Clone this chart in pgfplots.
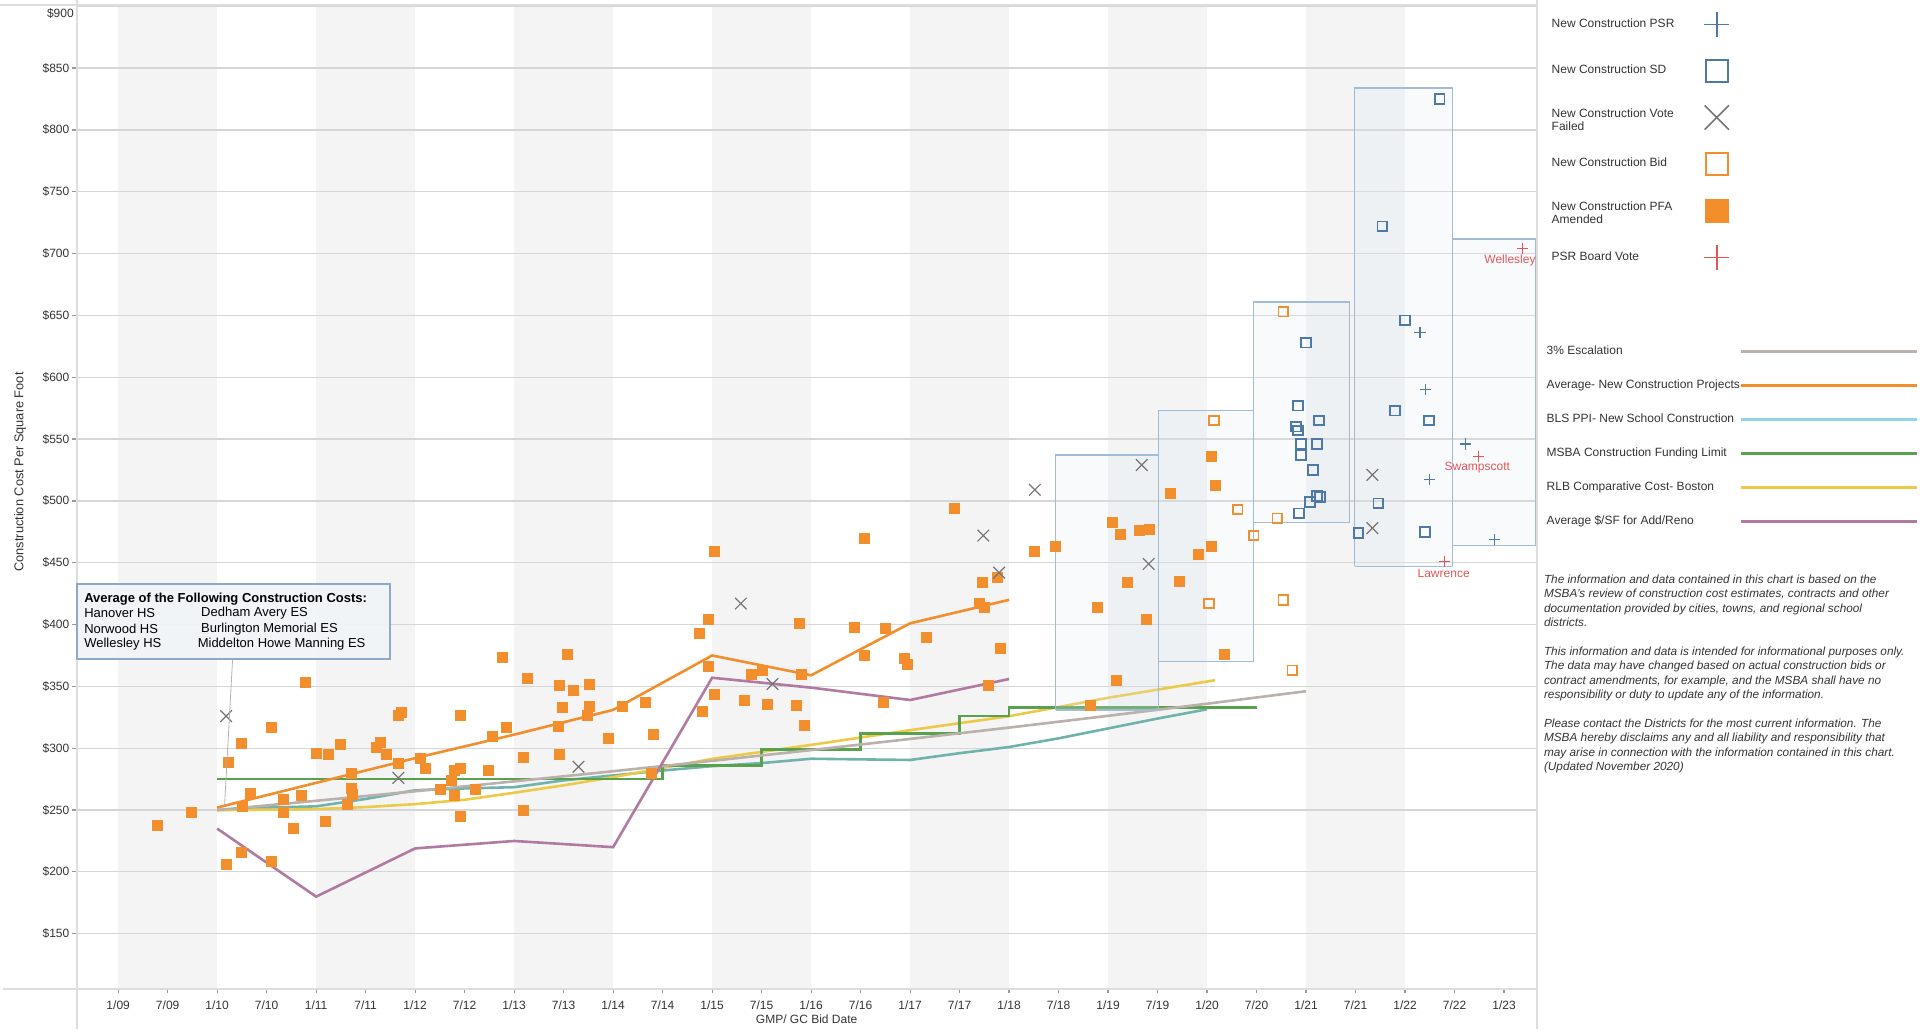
\documentclass[border=0pt]{standalone}
\usepackage{pgfplots}
\pgfplotsset{compat=1.18}
\usepackage{fontspec}
\setmainfont{Liberation Sans}
\definecolor{tborange}{HTML}{F28E2B}
\definecolor{tbblue}{HTML}{4E79A7}
\definecolor{tbred}{HTML}{E15759}
\definecolor{tbx}{HTML}{767676}
\definecolor{escc}{HTML}{BAB0AC}
\definecolor{tealc}{HTML}{70B3AC}
\definecolor{tealleg}{HTML}{8ED5E6}
\definecolor{greenc}{HTML}{59A14F}
\definecolor{yellowc}{HTML}{EDC948}
\definecolor{purplec}{HTML}{B07AA1}
\definecolor{bandc}{HTML}{F4F4F4}
\definecolor{gridc}{HTML}{D6D6D6}
\definecolor{framec}{HTML}{DDDDDD}
\definecolor{boxc}{HTML}{A2BCD8}
\definecolor{boxfill}{HTML}{DDE8F1}
\definecolor{annc}{HTML}{8FA8C6}
\definecolor{annfill}{HTML}{F1F4F7}
\definecolor{txt}{HTML}{333333}
\newcommand{\twoline}[2]{\begin{tabular}{@{}l@{}}#1\\#2\end{tabular}}
\pgfplotsset{legaxis/.style={anchor=north west, scale only axis, width=5pt, height=5pt,
  xmin=0, xmax=1, ymin=0, ymax=1, axis line style={draw=none}, xtick=\empty, ytick=\empty,
  legend plot pos=right, legend cell align=left}}
\begin{document}
\begin{tikzpicture}[x=1pt,y=1pt]
\begin{axis}[
  at={(38.25pt,-2.5pt)}, anchor=north west,
  scale only axis, width=730.1pt, height=492pt,
  set layers, clip=false,
  xmin=2008.579, xmax=2023.33, ymin=105.3, ymax=901,
  axis lines*=left, axis line style={draw=none},
  tick align=outside, major tick length=2.2pt,
  tick style={color=black!40, line width=0.6pt},
  ymajorgrids, major grid style={color=gridc, line width=0.6pt},
  xtick={2009,2009.5,2010,2010.5,2011,2011.5,2012,2012.5,2013,2013.5,2014,2014.5,2015,2015.5,2016,2016.5,2017,2017.5,2018,2018.5,2019,2019.5,2020,2020.5,2021,2021.5,2022,2022.5,2023},
  xticklabels={1/09,7/09,1/10,7/10,1/11,7/11,1/12,7/12,1/13,7/13,1/14,7/14,1/15,7/15,1/16,7/16,1/17,7/17,1/18,7/18,1/19,7/19,1/20,7/20,1/21,7/21,1/22,7/22,1/23},
  ytick={150,200,250,300,350,400,450,500,550,600,650,700,750,800,850},
  yticklabels={\$150,\$200,\$250,\$300,\$350,\$400,\$450,\$500,\$550,\$600,\$650,\$700,\$750,\$800,\$850},
  extra y ticks={900}, extra y tick labels={\$900},
  extra y tick style={major tick length=0pt, yticklabel style={yshift=-3.4pt}, grid style={color=gridc, line width=0.6pt}},
  tick label style={font=\fontsize{6}{7}\selectfont, text=txt},
  yticklabel style={inner sep=1.2pt},
]
\begin{pgfonlayer}{axis background}
\fill[bandc] (axis cs:2009,105.3) rectangle (axis cs:2010,901);
\fill[bandc] (axis cs:2011,105.3) rectangle (axis cs:2012,901);
\fill[bandc] (axis cs:2013,105.3) rectangle (axis cs:2014,901);
\fill[bandc] (axis cs:2015,105.3) rectangle (axis cs:2016,901);
\fill[bandc] (axis cs:2017,105.3) rectangle (axis cs:2018,901);
\fill[bandc] (axis cs:2019,105.3) rectangle (axis cs:2020,901);
\fill[bandc] (axis cs:2021,105.3) rectangle (axis cs:2022,901);
\end{pgfonlayer}

% BLS PPI
\addplot[tealc, line width=1.3pt] coordinates {(2010,250) (2010.5,252) (2011,253) (2011.5,259) (2012,266) (2012.5,267.5) (2013,268.5) (2013.5,274) (2014,278) (2014.5,282) (2015,285.5) (2015.5,288) (2016,291.5) (2016.5,291) (2017,290.5) (2017.5,296) (2018,301) (2018.5,308) (2019,316) (2019.5,324) (2020,331.5)};
% RLB
\addplot[yellowc, line width=1.3pt] coordinates {(2010,250) (2010.5,250.3) (2011,250.8) (2011.5,252.4) (2012,254.8) (2012.5,258.3) (2013,264) (2013.5,270) (2014,276.6) (2014.5,284) (2015,291.4) (2016,302.7) (2017,314.6) (2018,325.9) (2019,340.8) (2020.08,355)};
% MSBA
\addplot[greenc, line width=1.3pt, const plot] coordinates {(2010,275) (2014.5,286) (2015.5,299) (2016.5,312) (2017.5,326) (2018,333) (2020.5,333)};
% 3% escalation
\addplot[escc, line width=1.3pt] coordinates {(2010,250) (2011,257.5) (2012,265.2) (2013,273.2) (2014,281.4) (2015,289.8) (2016,298.5) (2017,307.5) (2018,316.7) (2019,326.2) (2020,336.0) (2021,346.1)};
% Add/Reno
\addplot[purplec, line width=1.3pt] coordinates {(2010,235) (2011,180) (2012,219) (2013,225) (2014,220) (2015,357) (2016,349) (2017,339) (2018,356)};
% Average new construction
\addplot[tborange, line width=1.3pt] coordinates {(2010,252) (2011,272) (2012,292) (2013,311) (2014,331) (2015,375) (2016,359) (2017,401) (2018,420)};

% PFA amended
\addplot[only marks, mark=square*, mark size=2.5pt, color=tborange, mark options={line width=0.2pt}] coordinates {
(2009.39,238) (2009.74,248) (2010.09,206) (2010.11,289) (2010.24,304) (2010.24,216) (2010.25,253) (2010.33,264)
(2010.55,317) (2010.55,209) (2010.67,259) (2010.67,248) (2010.77,235) (2010.85,262) (2010.89,353) (2011.00,296)
(2011.09,241) (2011.12,295) (2011.24,303) (2011.31,255) (2011.35,280) (2011.35,268) (2011.36,263) (2011.61,301)
(2011.65,305) (2011.71,295) (2011.83,288) (2011.83,327) (2011.86,329) (2012.05,292) (2012.10,284) (2012.25,267)
(2012.36,274) (2012.39,282) (2012.39,262) (2012.46,245) (2012.46,284) (2012.46,327) (2012.61,267) (2012.74,282)
(2012.78,310) (2012.88,374) (2012.92,317) (2013.09,293) (2013.09,250) (2013.13,357) (2013.45,318) (2013.46,295)
(2013.46,351) (2013.49,333) (2013.54,376) (2013.60,347) (2013.74,327) (2013.76,334) (2013.76,352) (2013.95,308)
(2014.09,334) (2014.32,337) (2014.38,280) (2014.40,311)
(2014.87,393) (2014.90,330) (2014.96,404) (2014.96,366) (2015.02,459) (2015.02,344) (2015.32,339) (2015.39,360)
(2015.51,363) (2015.56,336) (2015.85,335) (2015.88,401) (2015.90,360) (2015.93,319) (2016.44,398) (2016.54,470)
(2016.54,375) (2016.73,337) (2016.75,397) (2016.94,373) (2016.97,368) (2017.16,390) (2017.45,494) (2017.70,417)
(2017.73,434) (2017.75,414) (2017.79,351) (2017.88,438) (2017.91,381) (2018.25,459) (2018.47,463)
(2018.82,335) (2018.89,414) (2019.04,483) (2019.08,355) (2019.12,473) (2019.19,434) (2019.31,476) (2019.38,404)
(2019.42,477) (2019.63,506) (2019.72,435) (2019.91,457) (2020.04,536) (2020.04,463) (2020.08,513) (2020.17,376)
};

% boxes
\addplot[draw=boxc, line width=0.8pt, line join=miter, fill=boxfill, fill opacity=0.22] coordinates {(2018.47,331) (2019.51,331) (2019.51,537) (2018.47,537) (2018.47,331)};
\addplot[draw=boxc, line width=0.8pt, line join=miter, fill=boxfill, fill opacity=0.22] coordinates {(2019.51,370) (2020.47,370) (2020.47,573) (2019.51,573) (2019.51,370)};
\addplot[draw=boxc, line width=0.8pt, line join=miter, fill=boxfill, fill opacity=0.22] coordinates {(2020.47,482.5) (2021.44,482.5) (2021.44,661) (2020.47,661) (2020.47,482.5)};
\addplot[draw=boxc, line width=0.8pt, line join=miter, fill=boxfill, fill opacity=0.22] coordinates {(2021.49,447) (2022.48,447) (2022.48,834) (2021.49,834) (2021.49,447)};
\addplot[draw=boxc, line width=0.8pt, line join=miter, fill=boxfill, fill opacity=0.22] coordinates {(2022.48,464) (2023.32,464) (2023.32,712) (2022.48,712) (2022.48,464)};

% Bid (hollow orange)
\addplot[only marks, mark=square, mark size=2.4pt, color=tborange, mark options={line width=0.9pt}] coordinates {
(2020.02,417) (2020.07,565) (2020.31,493) (2020.47,472) (2020.71,486) (2020.77,653) (2020.77,420) (2020.86,363)};
% Vote failed
\addplot[only marks, mark=x, mark size=4.1pt, color=tbx, mark options={line width=0.6pt}] coordinates {
(2010.09,326) (2011.83,276) (2013.65,285) (2015.29,417) (2015.61,352) (2017.74,472) (2017.90,442) (2018.26,509)
(2019.34,529) (2019.41,449) (2021.67,521) (2021.67,478)};
% SD (hollow blue)
\addplot[only marks, mark=square, mark size=2.4pt, color=tbblue, mark options={line width=0.9pt}] coordinates {
(2020.92,577) (2021.00,628) (2021.13,565) (2020.90,560) (2020.92,557) (2020.95,546) (2021.11,546) (2020.95,537)
(2021.07,525) (2021.14,503) (2021.11,504) (2021.04,499) (2020.93,490) (2021.53,474) (2021.73,498) (2021.90,573)
(2021.77,722) (2022.00,646) (2022.24,565) (2022.20,475) (2022.35,825)};
% PSR (blue plus)
\addplot[only marks, mark=+, mark size=2.8pt, color=tbblue, mark options={line width=0.6pt}] coordinates {
(2022.15,636) (2022.21,590) (2022.25,517) (2022.61,546) (2022.90,469)};
% PSR board vote (red plus)
\addplot[only marks, mark=+, mark size=2.8pt, color=tbred, mark options={line width=0.6pt}] coordinates {
(2023.19,704) (2022.74,536) (2022.40,451)};
\node[text=tbred, font=\fontsize{6}{7}\selectfont, inner sep=0pt] at (axis cs:2023.06,694.3) {Wellesley};
\node[text=tbred, font=\fontsize{6}{7}\selectfont, inner sep=0pt] at (axis cs:2022.73,526.6) {Swampscott};
\node[text=tbred, font=\fontsize{6}{7}\selectfont, inner sep=0pt] at (axis cs:2022.39,441.2) {Lawrence};
\end{axis}

% frame lines
\draw[framec, line width=1pt] (38.25pt,0pt) -- (38.25pt,-514.5pt);
\draw[framec, line width=1pt] (768.35pt,0pt) -- (768.35pt,-514.5pt);
\draw[framec, line width=1pt] (1.5pt,-494.5pt) -- (768.35pt,-494.5pt);
\draw[framec, line width=0.8pt] (0pt,-2.5pt) -- (768.35pt,-2.5pt);

% annotation
\draw[black!30, line width=0.4pt] (116.3pt,-329.5pt) -- (112.3pt,-402.5pt);
\draw[annc, line width=0.7pt, fill=annfill, fill opacity=0.92] (38.4pt,-292pt) rectangle (195pt,-329.5pt);
\node[anchor=west, inner sep=0pt, font=\bfseries\fontsize{6.5}{7.5}\selectfont] at (41.95pt,-299.5pt) {Average of the Following Construction Costs:};
\node[anchor=west, inner sep=0pt, font=\fontsize{6.5}{7.5}\selectfont] at (41.95pt,-306.65pt) {Hanover HS};
\node[anchor=west, inner sep=0pt, font=\fontsize{6.5}{7.5}\selectfont] at (41.95pt,-314.35pt) {Norwood HS};
\node[anchor=west, inner sep=0pt, font=\fontsize{6.5}{7.5}\selectfont] at (41.95pt,-321.85pt) {Wellesley HS};
\node[anchor=west, inner sep=0pt, font=\fontsize{6.5}{7.5}\selectfont] at (100.4pt,-306.65pt) {Dedham Avery ES};
\node[anchor=west, inner sep=0pt, font=\fontsize{6.5}{7.5}\selectfont] at (100.4pt,-314.35pt) {Burlington Memorial ES};
\node[anchor=west, inner sep=0pt, font=\fontsize{6.5}{7.5}\selectfont] at (98.7pt,-321.85pt) {Middelton Howe Manning ES};

% axis titles
\node[text=txt, font=\fontsize{6}{7}\selectfont] at (403.3pt,-509.5pt) {GMP/ GC Bid Date};
\node[text=txt, rotate=90, font=\fontsize{6.4}{7}\selectfont] at (10pt,-236pt) {Construction Cost Per Square Foot};

% marker legend
\begin{axis}[legaxis, at={(775.85pt,-0.5pt)},
  legend style={at={(0,1)}, anchor=north west, draw=none, fill=none, inner sep=0pt, outer sep=0pt,
    row sep=0pt, column sep=15pt, font=\fontsize{6}{6.5}\selectfont, text=txt,
    nodes={minimum height=23.3pt, inner sep=0pt}}]
\path (axis cs:0,0) rectangle (axis cs:1,1);
\addlegendimage{only marks, mark=+, mark size=6.2pt, color=tbblue, mark options={line width=0.8pt}}
\addlegendentry{New Construction PSR}
\addlegendimage{only marks, mark=square, mark size=5.5pt, color=tbblue, mark options={line width=1pt}}
\addlegendentry{New Construction SD}
\addlegendimage{only marks, mark=x, mark size=8.6pt, color=tbx, mark options={line width=0.8pt}}
\addlegendentry{\twoline{New Construction Vote}{Failed}}
\addlegendimage{only marks, mark=square, mark size=5.5pt, color=tborange, mark options={line width=1pt}}
\addlegendentry{New Construction Bid}
\addlegendimage{only marks, mark=square*, mark size=5.6pt, color=tborange, mark options={line width=0.2pt}}
\addlegendentry{\twoline{New Construction PFA}{Amended}}
\addlegendimage{only marks, mark=+, mark size=6.2pt, color=tbred, mark options={line width=0.8pt}}
\addlegendentry{PSR Board Vote}
\end{axis}

% line legend
\begin{axis}[legaxis, at={(773.35pt,-167.4pt)},
  legend image code/.code={\draw[#1] (0pt,0pt) -- (88pt,0pt);},
  legend style={at={(0,1)}, anchor=north west, draw=none, fill=none, inner sep=0pt, outer sep=0pt,
    row sep=0pt, column sep=0pt, font=\fontsize{6}{6.5}\selectfont, text=txt,
    nodes={minimum height=17pt, inner sep=0pt}}]
\path (axis cs:0,0) rectangle (axis cs:1,1);
\addlegendimage{color=escc, line width=1.4pt}
\addlegendentry{3\% Escalation}
\addlegendimage{color=tborange, line width=1.4pt}
\addlegendentry{Average- New Construction Projects}
\addlegendimage{color=tealleg, line width=1.4pt}
\addlegendentry{BLS PPI- New School Construction}
\addlegendimage{color=greenc, line width=1.4pt}
\addlegendentry{MSBA Construction Funding Limit}
\addlegendimage{color=yellowc, line width=1.4pt}
\addlegendentry{RLB Comparative Cost- Boston}
\addlegendimage{color=purplec, line width=1.4pt}
\addlegendentry{Average \$/SF for Add/Reno}
\end{axis}

% notes
\node[anchor=north west, inner sep=0pt, align=left, text=txt, font=\fontsize{5.9}{7.2}\selectfont\itshape] at (771.8pt,-287.3pt) {%
The information and data contained in this chart is based on the\\
MSBA's review of construction cost estimates, contracts and other\\
documentation provided by cities, towns, and regional school\\
districts.\\[7.2pt]
This information and data is intended for informational purposes only.\\
The data may have changed based on actual construction bids or\\
contract amendments, for example, and the MSBA shall have no\\
responsibility or duty to update any of the information.\\[7.2pt]
Please contact the Districts for the most current information. The\\
MSBA hereby disclaims any and all liability and responsibility that\\
may arise in connection with the information contained in this chart.\\
(Updated November 2020)};
\pgfresetboundingbox
\path[use as bounding box] (0pt,0pt) rectangle (965pt,-514.5pt);
\end{tikzpicture}
\end{document}
